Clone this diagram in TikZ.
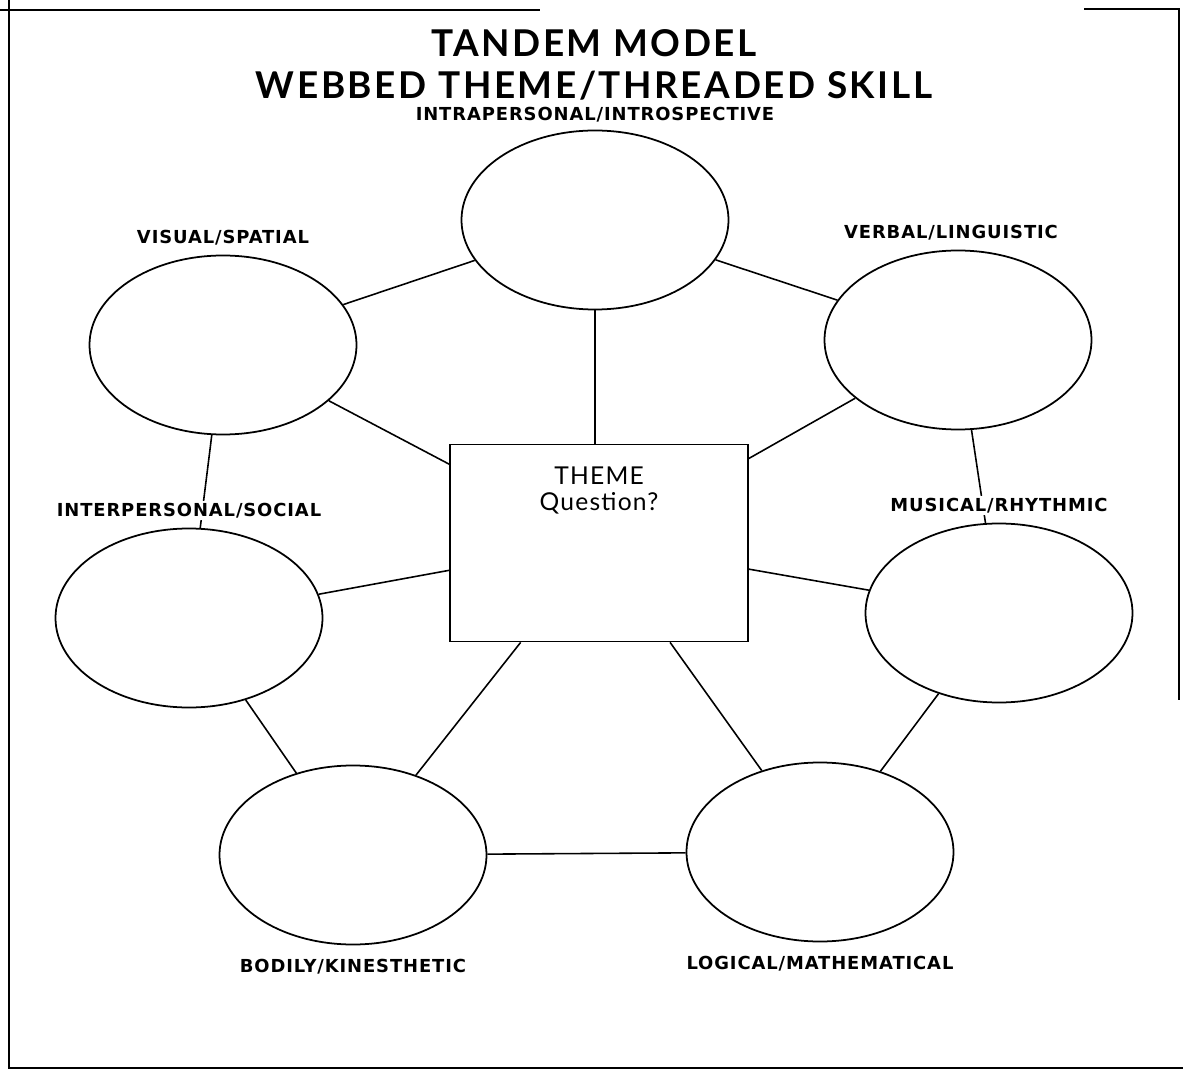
\documentclass[tikz,border=0pt]{standalone}
\usepackage{fontspec}
\setmainfont{Lato}
\newfontfamily\titlefont[LetterSpace=7]{Lato}
\newfontfamily\namefont[LetterSpace=5]{DejaVu Sans}
\newfontfamily\themefont[LetterSpace=5]{Lato}
\usepackage{tikz}
\usetikzlibrary{positioning,shapes.geometric}

\begin{document}
\begin{tikzpicture}[x=0.2mm, y=-0.2mm, line width=1pt,
  intel/.style={draw, ellipse, minimum width=53.4mm, minimum height=35.8mm, inner sep=0pt},
  intelname/.style={font=\namefont\bfseries\fontsize{10.2}{12}\selectfont, inner sep=1pt, fill=white},
  link/.style={line width=0.9pt}]
  \useasboundingbox (0,0) rectangle (1183,1074);
  % page frame
  \draw (9,0) -- (9,1068) -- (1183,1068);
  \draw (0,10) -- (540,10);
  \draw (1084,9) -- (1179,9) -- (1179,700);
  % title
  \node[font=\titlefont\bfseries\fontsize{21}{23.8}\selectfont, align=center] (title) at (594,65) {TANDEM MODEL\\WEBBED THEME/THREADED SKILL};
  % the seven intelligences
  \node[intel] (intra) at (595,220) {};
  \node[intel] (visual) at (223,345) {};
  \node[intel] (verbal) at (958,340) {};
  \node[intel] (inter) at (189,618) {};
  \node[intel] (musical) at (999,613) {};
  \node[intel] (bodily) at (353,855) {};
  \node[intel] (logical) at (820,852) {};
  % theme box in the middle
  \node[draw, minimum width=59.6mm, minimum height=39.4mm, inner sep=0pt,
    label={[anchor=north, yshift=-3.4mm, align=center, font=\themefont\fontsize{14}{14.4}\selectfont]north:THEME\\Question?}] (theme) at (599,543) {};
  % web
  \draw[link] (intra) -- (visual);
  \draw[link] (intra) -- (verbal);
  \draw[link] (intra.south) -- (intra.south |- theme.north);
  \draw[link] (visual) -- (theme);
  \draw[link] (verbal) -- (theme);
  \draw[link] (visual) -- (inter);
  \draw[link] (verbal) -- (musical);
  \draw[link] (inter) -- (theme);
  \draw[link] (musical) -- (theme);
  \draw[link] (inter) -- (bodily);
  \draw[link] (musical) -- (logical);
  \draw[link] (theme) -- (bodily);
  \draw[link] (theme) -- (logical);
  \draw[link] (bodily) -- (logical);
  % names
  \node[intelname, above=0.9mm of intra] (intraname) {INTRAPERSONAL/INTROSPECTIVE};
  \node[intelname, above=1.4mm of visual] (visualname) {VISUAL/SPATIAL};
  \node[intelname, above=1.4mm of verbal, xshift=-1.4mm] (verbalname) {VERBAL/LINGUISTIC};
  \node[intelname, above=1.4mm of inter] (intername) {INTERPERSONAL/SOCIAL};
  \node[intelname, above=1.4mm of musical] (musicalname) {MUSICAL/RHYTHMIC};
  \node[intelname, below=2.2mm of bodily] (bodilyname) {BODILY/KINESTHETIC};
  \node[intelname, below=2.2mm of logical] (logicalname) {LOGICAL/MATHEMATICAL};
\end{tikzpicture}
\end{document}
